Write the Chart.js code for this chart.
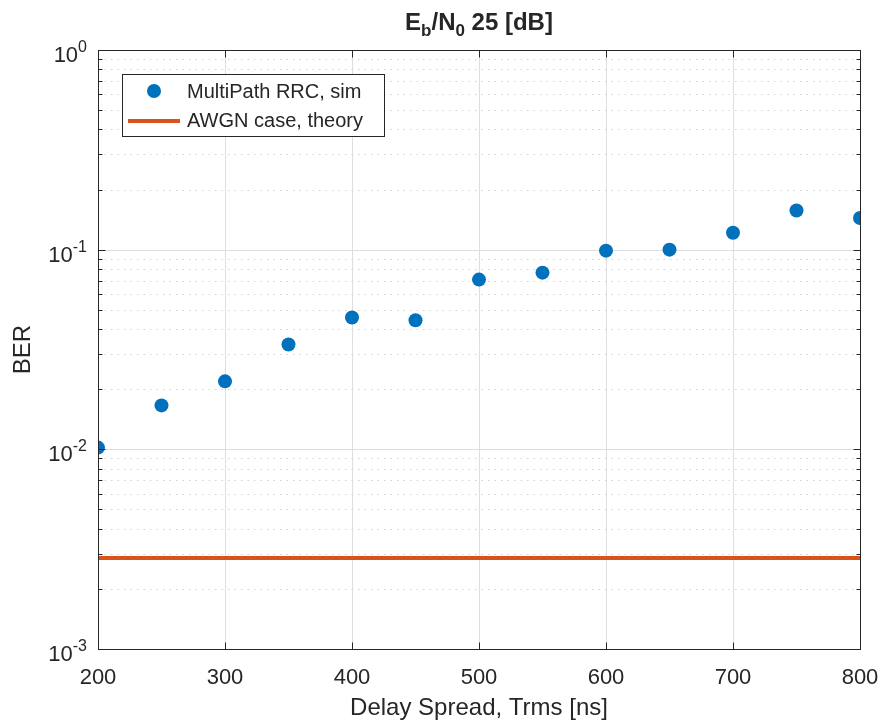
<!DOCTYPE html>
<html>
<head>
<meta charset="utf-8">
<script src="https://cdn.jsdelivr.net/npm/chart.js@4.4.1/dist/chart.umd.min.js"></script>
<style>
  body { margin: 0; background: #fff; }
  #wrap { width: 881px; height: 728px; }
</style>
</head>
<body>
<div id="wrap"><canvas id="ber-chart"></canvas></div>
<script>
// data
var delaySpread = [200, 250, 300, 350, 400, 450, 500, 550, 600, 650, 700, 750, 800];
var berSim = [0.0102, 0.0166, 0.0219, 0.0335, 0.0457, 0.0443, 0.0708, 0.0767, 0.0989, 0.1, 0.1216, 0.157, 0.144];
var awgnTheory = 0.00286;
var xTicks = [200, 300, 400, 500, 600, 700, 800];
var yDecades = [0.001, 0.01, 0.1, 1];
var yExponents = ['-3', '-2', '-1', '0'];

var FONT = '"Liberation Sans", Arial, Helvetica, sans-serif';
var TEXT = '#262626';
var blue = '#0072BD';
var orange = '#D95319';

var simPoints = delaySpread.map(function (d, i) { return { x: d, y: berSim[i] }; });
var awgnPoints = [
  { x: delaySpread[0], y: awgnTheory },
  { x: delaySpread[delaySpread.length - 1], y: awgnTheory }
];

var matlabAxes = {
  id: 'matlabAxes',
  beforeDatasetsDraw: function (chart) {
    var ctx = chart.ctx, a = chart.chartArea;
    var xs = chart.scales.x, ys = chart.scales.y;
    ctx.save();
    ctx.lineWidth = 1;
    // x grid
    ctx.strokeStyle = '#dedede';
    xTicks.forEach(function (v) {
      var px = Math.round(xs.getPixelForValue(v)) + 0.5;
      ctx.beginPath(); ctx.moveTo(px, a.top); ctx.lineTo(px, a.bottom); ctx.stroke();
    });
    // y minor grid (dotted)
    ctx.strokeStyle = '#d2d2d2';
    ctx.setLineDash([1.5, 5]);
    for (var i = 0; i < yDecades.length - 1; i++) {
      for (var m = 2; m <= 9; m++) {
        var py = Math.round(ys.getPixelForValue(yDecades[i] * m)) + 0.5;
        ctx.beginPath(); ctx.moveTo(a.left, py); ctx.lineTo(a.right, py); ctx.stroke();
      }
    }
    ctx.setLineDash([]);
    // y major grid
    ctx.strokeStyle = '#dedede';
    yDecades.forEach(function (v) {
      var py = Math.round(ys.getPixelForValue(v)) + 0.5;
      ctx.beginPath(); ctx.moveTo(a.left, py); ctx.lineTo(a.right, py); ctx.stroke();
    });
    ctx.restore();
  },
  afterDatasetsDraw: function (chart) {
    var ctx = chart.ctx, a = chart.chartArea;
    var xs = chart.scales.x, ys = chart.scales.y;
    ctx.save();
    // box + inward ticks
    ctx.strokeStyle = TEXT;
    ctx.lineWidth = 1;
    var L = Math.round(a.left) + 0.5, R = Math.round(a.right) + 0.5;
    var T = Math.round(a.top) + 0.5, B = Math.round(a.bottom) + 0.5;
    ctx.strokeRect(L, T, R - L, B - T);
    ctx.beginPath();
    xTicks.forEach(function (v) {
      var px = Math.round(xs.getPixelForValue(v)) + 0.5;
      ctx.moveTo(px, B); ctx.lineTo(px, B - 7);
      ctx.moveTo(px, T); ctx.lineTo(px, T + 7);
    });
    for (var i = 0; i < yDecades.length; i++) {
      var py = Math.round(ys.getPixelForValue(yDecades[i])) + 0.5;
      ctx.moveTo(L, py); ctx.lineTo(L + 7, py);
      ctx.moveTo(R, py); ctx.lineTo(R - 7, py);
      if (i < yDecades.length - 1) {
        for (var m = 2; m <= 9; m++) {
          var pm = Math.round(ys.getPixelForValue(yDecades[i] * m)) + 0.5;
          ctx.moveTo(L, pm); ctx.lineTo(L + 4, pm);
          ctx.moveTo(R, pm); ctx.lineTo(R - 4, pm);
        }
      }
    }
    ctx.stroke();

    // y tick labels 10^n
    ctx.fillStyle = TEXT;
    ctx.textBaseline = 'alphabetic';
    ctx.textAlign = 'left';
    yDecades.forEach(function (v, i) {
      var py = ys.getPixelForValue(v);
      ctx.font = '16px ' + FONT;
      var ws = ctx.measureText(yExponents[i]).width;
      ctx.font = '22px ' + FONT;
      var wb = ctx.measureText('10').width;
      var right = a.left - 11;
      ctx.fillText('10', right - ws - wb, py + 12);
      ctx.font = '16px ' + FONT;
      ctx.fillText(yExponents[i], right - ws, py + 2);
    });

    // title  E_b/N_0 25 [dB]
    var parts = [
      { t: 'E', sub: false }, { t: 'b', sub: true }, { t: '/N', sub: false },
      { t: '0', sub: true }, { t: ' 25 [dB]', sub: false }
    ];
    var total = 0;
    parts.forEach(function (p) {
      ctx.font = 'bold ' + (p.sub ? 17 : 24) + 'px ' + FONT;
      p.w = ctx.measureText(p.t).width;
      total += p.w;
    });
    var tx = (a.left + a.right) / 2 - total / 2;
    parts.forEach(function (p) {
      ctx.font = 'bold ' + (p.sub ? 17 : 24) + 'px ' + FONT;
      ctx.fillText(p.t, tx, p.sub ? 36 : 30);
      tx += p.w;
    });

    // legend
    var lx = 122.5, ly = 74.5, lw = 262, lh = 62;
    ctx.fillStyle = '#ffffff';
    ctx.fillRect(lx, ly, lw, lh);
    ctx.strokeStyle = TEXT;
    ctx.strokeRect(lx, ly, lw, lh);
    ctx.fillStyle = blue;
    ctx.beginPath(); ctx.arc(154, 91, 7, 0, Math.PI * 2); ctx.fill();
    ctx.strokeStyle = orange;
    ctx.lineWidth = 4;
    ctx.beginPath(); ctx.moveTo(128, 121); ctx.lineTo(180, 121); ctx.stroke();
    ctx.fillStyle = TEXT;
    ctx.font = '20px ' + FONT;
    ctx.textBaseline = 'middle';
    ctx.fillText(chart.data.datasets[0].label, 187, 92);
    ctx.fillText(chart.data.datasets[1].label, 187, 121);
    ctx.restore();
  }
};

window.onload = function () {
  var canvas = document.getElementById('ber-chart');
  new Chart(canvas, {
    type: 'scatter',
    data: {
      datasets: [{
        label: 'MultiPath RRC, sim',
        data: simPoints,
        backgroundColor: blue,
        borderWidth: 0,
        pointRadius: 7,
        pointHoverRadius: 7
      }, {
        type: 'line',
        label: 'AWGN case, theory',
        data: awgnPoints,
        borderColor: orange,
        borderWidth: 4,
        pointRadius: 0,
        fill: false
      }]
    },
    options: {
      responsive: true,
      maintainAspectRatio: false,
      animation: false,
      layout: { padding: { top: 50, right: 21, left: 0, bottom: 0 } },
      plugins: {
        legend: { display: false },
        title: { display: false },
        tooltip: { enabled: false }
      },
      scales: {
        x: {
          type: 'linear',
          min: 200,
          max: 800,
          afterFit: function (s) { s.height = 79; s.paddingLeft = 0; s.paddingRight = 0; },
          afterBuildTicks: function (s) { s.ticks = xTicks.map(function (v) { return { value: v }; }); },
          grid: { display: false },
          border: { display: false },
          ticks: { font: { family: FONT, size: 22 }, color: TEXT, padding: 8, maxRotation: 0, autoSkip: false },
          title: { display: true, text: 'Delay Spread, Trms [ns]', font: { family: FONT, size: 24 }, color: TEXT, padding: { top: 0, bottom: 5 } }
        },
        y: {
          type: 'logarithmic',
          min: 0.001,
          max: 1,
          afterFit: function (s) { s.width = 98; s.paddingTop = 0; s.paddingBottom = 0; },
          grid: { display: false },
          border: { display: false },
          ticks: { display: false },
          title: { display: true, text: 'BER', font: { family: FONT, size: 24 }, color: TEXT, padding: { top: 9, bottom: 0 } }
        }
      }
    },
    plugins: [matlabAxes]
  });
};
</script>
</body>
</html>
